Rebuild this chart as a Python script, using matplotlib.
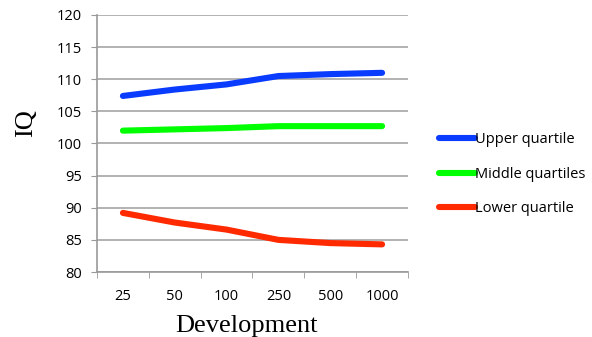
import matplotlib.pyplot as plt
import numpy as np

# data
development = ['25', '50', '100', '250', '500', '1000']
upper = [107.4, 108.4, 109.2, 110.5, 110.8, 111.0]
middle = [102.0, 102.2, 102.4, 102.7, 102.7, 102.7]
lower = [89.2, 87.7, 86.6, 85.0, 84.5, 84.3]

fig = plt.figure(figsize=(5.92, 3.37), dpi=100)
ax = fig.add_axes([97 / 592, 1 - 272 / 337, 311 / 592, 257 / 337])

x = np.arange(len(development))
ax.plot(x, upper, color='#0a3cff', lw=4.4, solid_capstyle='round', label='Upper quartile')
ax.plot(x, middle, color='#00ff00', lw=4.4, solid_capstyle='round', label='Middle quartiles')
ax.plot(x, lower, color='#ff2a00', lw=4.4, solid_capstyle='round', label='Lower quartile')

ax.set_xlim(-0.5, len(development) - 0.5)
ax.set_ylim(80, 120)
ax.set_yticks(np.arange(80, 121, 5))
ax.set_xticks(x)
ax.set_xticklabels(development)
ax.set_xticks(np.arange(-0.5, len(development), 1), minor=True)
ax.tick_params(axis='x', which='major', length=0, pad=12)
ax.tick_params(axis='x', which='minor', length=4, color='#999999')
ax.tick_params(axis='y', length=4, color='#999999', pad=7)
for lab in ax.get_xticklabels() + ax.get_yticklabels():
    lab.set_family('Open Sans')
    lab.set_fontsize(10.5)

ax.grid(axis='y', color='#a6a6a6', lw=1.2)
ax.set_axisbelow(True)
for s in ['top', 'right']:
    ax.spines[s].set_visible(False)
ax.spines['left'].set_color('#999999')
ax.spines['bottom'].set_color('#999999')
ax.spines['left'].set_linewidth(1.2)
ax.spines['bottom'].set_linewidth(1.2)

fig.text(26 / 592, 1 - 123 / 337, 'IQ', family='Liberation Serif', fontsize=19,
         rotation=90, ha='center', va='center')
fig.text(246 / 592, 1 - 326 / 337, 'Development', family='Liberation Serif', fontsize=19,
         ha='center', va='center')

ax.legend(loc='upper left', bbox_to_anchor=(433 / 592, 1 - 126 / 337), bbox_transform=fig.transFigure,
          frameon=False, prop={'family': 'Open Sans', 'size': 10.5}, handlelength=2.45,
          handletextpad=0.0, labelspacing=1.36, borderaxespad=0)

fig.savefig('out.png', dpi=100)
